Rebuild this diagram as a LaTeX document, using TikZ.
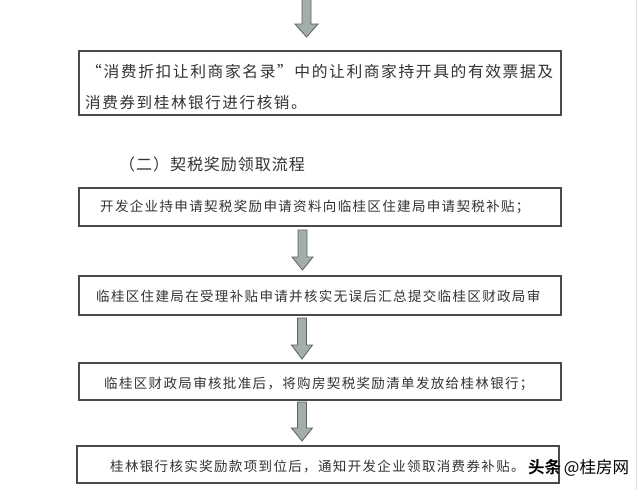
\documentclass[tikz,border=0pt]{standalone}
\usepackage{fontspec}
\newfontfamily\cjk[LetterSpace=10]{Noto Sans CJK SC}
\newfontfamily\cjkhead[LetterSpace=6]{Noto Sans CJK SC}
\newfontfamily\cjkbold{Noto Sans CJK SC Bold}
\newfontfamily\cjkplain{Noto Sans CJK SC}
\definecolor{boxline}{HTML}{4A4A4A}
\definecolor{txt}{HTML}{333333}
\definecolor{arrowfill}{HTML}{A3ADAB}
\definecolor{arrowline}{HTML}{5A615F}
\tikzset{
  flowbox/.style={draw=boxline, line width=1.2pt, fill=none},
  boxtext/.style={anchor=west, inner sep=0pt, text=txt, font=\cjk\fontsize{13.5}{16}\selectfont},
  bigtext/.style={anchor=west, inner sep=0pt, text=txt, font=\cjk\fontsize{15.6}{18}\selectfont},
  blockarrow/.style={fill=arrowfill, draw=arrowline, line width=0.8pt, line join=miter},
}
\begin{document}
\begin{tikzpicture}[x=1pt,y=-1pt]
\useasboundingbox (0,0) rectangle (640,490);
\fill[white] (0,0) rectangle (640,490);
\draw[gray!25, line width=0.8pt] (636,0) -- (636,490);

% arrow 1 (coming from above)
\draw[blockarrow] (302,-2) -- (302,24) -- (295,24) -- (306.5,37) -- (318,24) -- (311,24) -- (311,-2);

% box 1
\draw[flowbox] (79,51) rectangle (561,115);
\node[bigtext] (t1a) at (86,72) {\resizebox{467pt}{\height}{“消费折扣让利商家名录”中的让利商家持开具的有效票据及}};
\node[bigtext] (t1b) at (85,103) {消费券到桂林银行进行核销。};

% heading
\node[anchor=west, inner sep=0pt, text=txt, font=\cjkhead\fontsize{16}{18}\selectfont] (head) at (119,164) {（二）契税奖励领取流程};

% box 2
\draw[flowbox] (79,188) rectangle (561,226);
\node[boxtext] (t2) at (100,207) {开发企业持申请契税奖励申请资料向临桂区住建局申请契税补贴；};

% arrow 2
\draw[blockarrow] (298,230) -- (298,257) -- (292,257) -- (302.5,270) -- (313,257) -- (307,257) -- (307,230) -- cycle;

% box 3
\draw[flowbox] (79,276) rectangle (561,315);
\node[boxtext] (t3) at (96,296) {临桂区住建局在受理补贴申请并核实无误后汇总提交临桂区财政局审};

% arrow 3
\draw[blockarrow] (297.5,318) -- (297.5,345) -- (291.5,345) -- (302,359) -- (312.5,345) -- (306.5,345) -- (306.5,318) -- cycle;

% box 4
\draw[flowbox] (79,363) rectangle (561,400);
\node[boxtext] (t4) at (104,384) {临桂区财政局审核批准后，将购房契税奖励清单发放给桂林银行；};

% arrow 4
\draw[blockarrow] (297.5,402) -- (297.5,428) -- (291.5,428) -- (302,441) -- (312.5,428) -- (306.5,428) -- (306.5,402) -- cycle;

% box 5
\draw[flowbox] (77,446) rectangle (559,483);
\node[boxtext] (t5) at (110,466) {桂林银行核实奖励款项到位后，通知开发企业领取消费券补贴。};

% watermark
\node[anchor=west, inner sep=0pt, text=black, font=\cjkplain\fontsize{16.5}{18}\selectfont] (wm) at (528,468) {{\cjkbold 头条}\,@桂房网};
\end{tikzpicture}
\end{document}
